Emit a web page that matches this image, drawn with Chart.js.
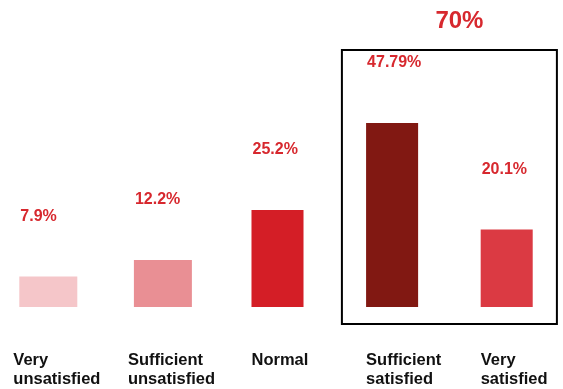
<!DOCTYPE html>
<html>
<head>
<meta charset="utf-8">
<script src="https://cdn.jsdelivr.net/npm/chart.js@4/dist/chart.umd.min.js"></script>
<style>
  html, body { margin: 0; padding: 0; background: #fff; overflow: hidden; width: 563px; height: 389px; }
  #wrap { position: absolute; left: -9px; top: 0; width: 573px; height: 389px; }
</style>
</head>
<body>
<div id="wrap"><canvas id="c"></canvas></div>
<script>
// Satisfaction survey: share of answers per level
const categories = [['Very', 'unsatisfied'], ['Sufficient', 'unsatisfied'], ['Normal'], ['Sufficient', 'satisfied'], ['Very', 'satisfied']];
const shares = [7.9, 12.2, 25.2, 47.79, 20.1];
const valueLabels = ['7.9%', '12.2%', '25.2%', '47.79%', '20.1%'];
const barColors = ['#f5c6c9', '#e98f94', '#d41e26', '#811812', '#db3a43'];
const satisfiedTotal = '70%';
const satisfiedGroup = [3, 4];
const wideBars = [0, 1];

const FONT = '"Liberation Sans", Arial, sans-serif';
const RED = '#d7282e';

// two overlapping datasets so the "unsatisfied" bars can be a touch wider
const wideData = shares.map((v, i) => wideBars.includes(i) ? v : null);
const narrowData = shares.map((v, i) => wideBars.includes(i) ? null : v);

function barAt(chart, i) {
  const ds = wideBars.includes(i) ? 0 : 1;
  return chart.getDatasetMeta(ds).data[i];
}

const annotations = {
  id: 'annotations',
  afterDatasetsDraw(chart) {
    const { ctx, chartArea, scales } = chart;
    const x = scales.x;
    const catW = x.getPixelForValue(1) - x.getPixelForValue(0);
    ctx.save();

    // value labels above each bar
    ctx.font = 'bold 16px ' + FONT;
    ctx.fillStyle = RED;
    ctx.textAlign = 'left';
    ctx.textBaseline = 'middle';
    shares.forEach((v, i) => {
      const el = barAt(chart, i);
      ctx.fillText(valueLabels[i], el.x - el.width / 2 + 1, el.y - 60);
    });

    // category labels under the bars
    ctx.font = 'bold 16.5px ' + FONT;
    ctx.fillStyle = '#111';
    ctx.textBaseline = 'alphabetic';
    categories.forEach((lines, i) => {
      const el = barAt(chart, i);
      const left = el.x - el.width / 2 - (wideBars.includes(i) ? 6 : 0);
      lines.forEach((t, k) => ctx.fillText(t, left, chartArea.bottom + 58 + k * 19));
    });

    // frame around the satisfied answers and their total
    const c0 = x.getPixelForValue(satisfiedGroup[0]);
    const c1 = x.getPixelForValue(satisfiedGroup[satisfiedGroup.length - 1]);
    const left = c0 - 0.438 * catW;
    const right = c1 + 0.438 * catW;
    const top = chartArea.top - 26;
    const bottom = chartArea.bottom + 17;
    ctx.strokeStyle = '#000';
    ctx.lineWidth = 2;
    ctx.strokeRect(left, top, right - left, bottom - top);

    ctx.font = 'bold 24px ' + FONT;
    ctx.fillStyle = RED;
    ctx.textAlign = 'center';
    ctx.textBaseline = 'middle';
    ctx.fillText(satisfiedTotal, (left + right) / 2 + 10, chartArea.top - 55);
    ctx.restore();
  }
};

new Chart(document.getElementById('c'), {
  type: 'bar',
  data: {
    labels: categories.map(l => l.join(' ')),
    datasets: [
      { data: wideData, backgroundColor: barColors, barPercentage: 0.506, categoryPercentage: 1, grouped: false },
      { data: narrowData, backgroundColor: barColors, barPercentage: 0.454, categoryPercentage: 1, grouped: false }
    ]
  },
  options: {
    responsive: true,
    maintainAspectRatio: false,
    animation: false,
    layout: { padding: { top: 76, bottom: 82, left: 0, right: 0 } },
    plugins: { legend: { display: false }, tooltip: { enabled: false } },
    scales: {
      x: { display: false },
      y: { display: false, min: 0, max: 60 }
    }
  },
  plugins: [annotations]
});
</script>
</body>
</html>
